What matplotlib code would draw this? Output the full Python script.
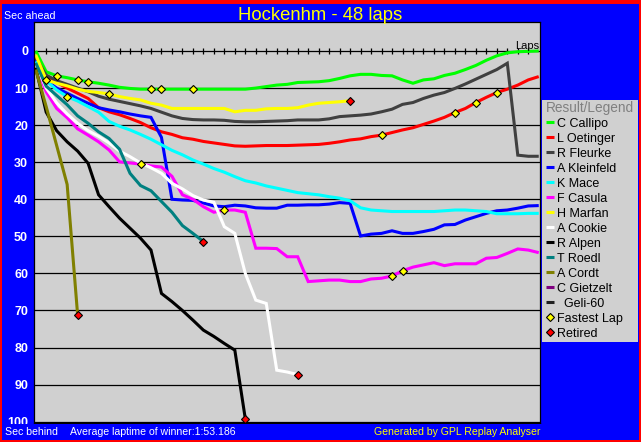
import matplotlib
matplotlib.use("Agg")
import matplotlib.pyplot as plt
from matplotlib.patches import Rectangle

plt.rcParams['font.family'] = ['Liberation Sans', 'DejaVu Sans']

# gap to leader (sec behind) per lap, lap 0 = grid
callipo = [0, 5.6, 6.7, 7.2, 7.8, 8.3, 8.7, 9.2, 9.8, 10.1,
           10.3, 10.3, 10.3, 10.3, 10.3, 10.3, 10.3, 10.3, 10.3, 10.3,
           10.3, 10.0, 9.6, 9.2, 9.0, 8.5, 8.4, 8.3, 8.0, 7.4,
           6.7, 6.3, 6.3, 6.6, 6.7, 7.8, 8.7, 7.8, 7.5, 6.6,
           6.0, 5.0, 3.9, 2.5, 1.3, 0.5, 0.2, 0.1, 0.0]
oetinger = [1.5, 7.0, 8.5, 10.0, 11.4, 12.8, 15.3, 16.4, 17.2, 18.2,
            19.3, 20.7, 21.8, 22.5, 23.4, 23.8, 24.4, 24.8, 25.2, 25.6,
            25.7, 25.6, 25.5, 25.5, 25.5, 25.4, 25.3, 25.2, 24.9, 24.5,
            24.0, 23.7, 23.1, 22.7, 22.0, 21.3, 20.7, 19.8, 18.9, 17.9,
            16.6, 15.5, 13.9, 12.5, 11.2, 10.3, 9.2, 7.8, 6.9]
fleurke = [2.0, 6.5, 8.0, 9.0, 10.0, 11.0, 12.2, 13.0, 13.6, 14.2,
           14.8, 15.5, 16.5, 17.5, 18.2, 18.5, 18.6, 18.6, 18.7, 19.0,
           19.1, 19.1, 19.0, 18.9, 18.8, 18.6, 18.6, 18.6, 18.3, 17.7,
           17.5, 17.3, 17.0, 16.4, 15.7, 14.4, 13.9, 12.8, 11.9, 11.2,
           10.1, 8.9, 7.6, 6.3, 5.0, 3.3, 28.1, 28.4, 28.4]
kleinfeld = [2.5, 8.0, 10.0, 11.4, 12.8, 14.1, 15.3, 15.9, 16.4, 17.0,
             17.5, 17.9, 23.3, 40.0, 40.2, 40.3, 41.0, 41.8, 42.0, 41.6,
             41.8, 42.3, 42.4, 42.4, 41.6, 41.6, 41.5, 41.5, 41.3, 40.9,
             41.1, 49.9, 49.4, 49.2, 48.5, 49.2, 49.2, 48.7, 48.1, 46.9,
             46.8, 45.6, 44.7, 43.8, 43.1, 42.9, 42.4, 41.8, 41.7]
mace = [2.8, 8.0, 10.5, 12.3, 13.5, 15.0, 16.5, 19.0, 20.3, 21.3,
        22.5, 23.8, 25.3, 26.8, 28.0, 29.4, 30.5, 31.7, 32.7, 33.9,
        35.0, 35.6, 36.4, 37.0, 37.6, 38.2, 38.5, 38.8, 39.3, 39.7,
        40.4, 42.3, 42.9, 43.1, 43.3, 43.3, 43.3, 43.3, 43.3, 43.1,
        42.9, 42.9, 43.1, 43.3, 43.9, 43.9, 43.9, 43.8, 43.8]
casula = [3.5, 11.0, 15.5, 18.0, 21.0, 22.7, 24.5, 26.7, 29.9, 30.2,
          30.5, 31.0, 31.3, 33.8, 38.8, 40.0, 42.0, 43.5, 42.9, 42.9,
          43.5, 53.2, 53.2, 53.3, 55.5, 55.5, 62.2, 62.0, 61.8, 61.8,
          62.2, 62.2, 61.5, 61.3, 60.7, 59.3, 58.3, 57.7, 57.1, 57.9,
          57.4, 57.4, 57.4, 55.9, 55.7, 54.6, 53.4, 53.7, 54.4]
marfan = [1.0, 7.8, 8.7, 9.4, 10.3, 10.9, 11.2, 11.6, 12.3, 12.8,
          13.2, 14.1, 14.6, 15.5, 15.5, 15.5, 15.5, 15.5, 15.5, 16.4,
          16.0, 16.0, 15.6, 15.5, 15.5, 15.3, 14.6, 14.1, 13.9, 13.7,
          13.4]
cookie = [3.5, 10.0, 14.0, 17.0, 19.5, 21.5, 23.0, 24.8, 27.0, 28.5,
          30.2, 31.5, 33.0, 35.7, 37.2, 39.0, 40.2, 40.8, 47.4, 49.2,
          60.0, 67.2, 68.1, 86.1, 86.6, 87.3]
alpen = [4.5, 16.5, 21.5, 24.5, 27.0, 30.3, 38.8, 42.0, 45.1, 47.8,
         50.5, 53.7, 65.4, 67.6, 70.0, 72.6, 75.3, 77.0, 78.9, 80.7,
         99.2]
roedl = [3.2, 9.5, 12.0, 14.5, 17.5, 19.5, 21.8, 23.6, 26.5, 33.0,
         36.3, 37.7, 40.6, 43.5, 47.1, 49.2, 51.4]
cordt = [5.0, 15.0, 25.5, 36.0, 71.2]
gietzelt = []
geli = []

drivers = ["C Callipo", "L Oetinger", "R Fleurke", "A Kleinfeld", "K Mace",
           "F Casula", "H Marfan", "A Cookie", "R Alpen", "T Roedl",
           "A Cordt", "C Gietzelt", "  Geli-60"]
colors = ["#00FF00", "#FF0000", "#404040", "#0000FF", "#00FFFF",
          "#FF00FF", "#FFFF00", "#FFFFFF", "#000000", "#008080",
          "#808000", "#800080", "#202020"]
gaps = [callipo, oetinger, fleurke, kleinfeld, mace, casula, marfan,
        cookie, alpen, roedl, cordt, gietzelt, geli]

fastest_laps = {"C Callipo": [2, 4, 5, 11, 12, 15],
                "L Oetinger": [33, 40, 42, 44],
                "K Mace": [3],
                "H Marfan": [1, 7],
                "F Casula": [10, 18, 34, 35]}
retired = ["H Marfan", "A Cookie", "R Alpen", "T Roedl", "A Cordt"]

total_laps = 48
y_ticks = list(range(0, 101, 10))

W, H = 641, 442


def fx(px):
    return px / W


def fy(py):
    return 1 - py / H


fig = plt.figure(figsize=(W / 100, H / 100), dpi=100, facecolor='#FF0000')
fig.patches.append(Rectangle((fx(2), fy(440)), fx(637), 438 / H - 2 / H,
                             transform=fig.transFigure, facecolor='#0000FF',
                             edgecolor='none', zorder=-1))

ax = fig.add_axes([fx(34.3), fy(423), fx(540 - 34.3), (423 - 22.3) / H],
                  facecolor='#D0D0D0')
ax.set_xlim(-0.134, 48.12)
ax.set_ylim(100.35, -7.74)
for s in ax.spines.values():
    s.set_color('black')
    s.set_linewidth(0.9)

for v in y_ticks:
    ax.axhline(v, color='black', lw=0.9, zorder=1)
ax.set_xticks([])
ax.set_yticks(y_ticks)
ax.set_yticklabels([str(v) for v in y_ticks], fontweight='bold', fontsize=9)
ax.tick_params(axis='y', length=0, pad=4.5, labelcolor='white')

laps_ticks = list(range(1, total_laps))
ax.plot(laps_ticks, [0] * len(laps_ticks), ls='none', marker='|', ms=4.5,
        mew=0.9, color='black', zorder=1)

by_name = {}
for name, col, g in zip(drivers, colors, gaps):
    by_name[name] = g
    if g:
        ax.plot(range(len(g)), g, color=col, lw=2.2, zorder=2,
                solid_joinstyle='miter', solid_capstyle='butt')

for name, laps in fastest_laps.items():
    g = by_name[name]
    ax.plot(laps, [g[l] for l in laps], ls='none', marker='D', ms=4,
            mfc='#FFFF00', mec='black', mew=0.8, zorder=4)
for name in retired:
    g = by_name[name]
    ax.plot([len(g) - 1], [g[-1]], ls='none', marker='D', ms=4,
            mfc='#FF0000', mec='black', mew=0.8, zorder=4)

fig.text(fx(539), fy(49), 'Laps', ha='right', va='baseline', fontsize=8,
         color='black')

# text strips
fig.patches.append(Rectangle((fx(2), fy(440)), fx(637), 16 / H,
                             transform=fig.transFigure, facecolor='#0000FF',
                             edgecolor='none', zorder=1))
fig.text(fx(320), fy(20), 'Hockenhm - 48 laps', ha='center', va='baseline',
         fontsize=13.3, color='#FFFF00')
fig.text(fx(4), fy(19.3), 'Sec ahead', ha='left', va='baseline',
         fontsize=7.7, color='white')
fig.text(fx(5), fy(435), 'Sec behind', ha='left', va='baseline',
         fontsize=7.6, color='white')
fig.text(fx(70), fy(435), 'Average laptime of winner:1:53.186', ha='left',
         va='baseline', fontsize=7.6, color='white')
fig.text(fx(540), fy(435), 'Generated by GPL Replay Analyser', ha='right',
         va='baseline', fontsize=7.6, color='#FFFF00')

# legend panel
lax = fig.add_axes([fx(542), fy(342), fx(96), 242 / H], facecolor='#D0D0D0')
lax.set_xlim(542, 638)
lax.set_ylim(342, 100)
lax.set_xticks([])
lax.set_yticks([])
for s in lax.spines.values():
    s.set_visible(False)

lax.text(546, 112.3, 'Result/Legend', color='#808080', fontsize=9.8,
         va='baseline')
row_y = 122.3
for name, col in zip(drivers, colors):
    lax.plot([545.7, 554], [row_y, row_y], color=col, lw=2.2,
             solid_capstyle='butt')
    lax.text(556.7, row_y + 4.3, name, fontsize=9, va='baseline')
    row_y += 15
lax.plot([549.5], [row_y], marker='D', ms=4, mfc='#FFFF00', mec='black',
         mew=0.8)
lax.text(556.7, row_y + 4.3, 'Fastest Lap', fontsize=9, va='baseline')
row_y += 15
lax.plot([549.5], [row_y], marker='D', ms=4, mfc='#FF0000', mec='black',
         mew=0.8)
lax.text(556.7, row_y + 4.3, 'Retired', fontsize=9, va='baseline')

fig.savefig('out.png', dpi=100, facecolor=fig.get_facecolor())
